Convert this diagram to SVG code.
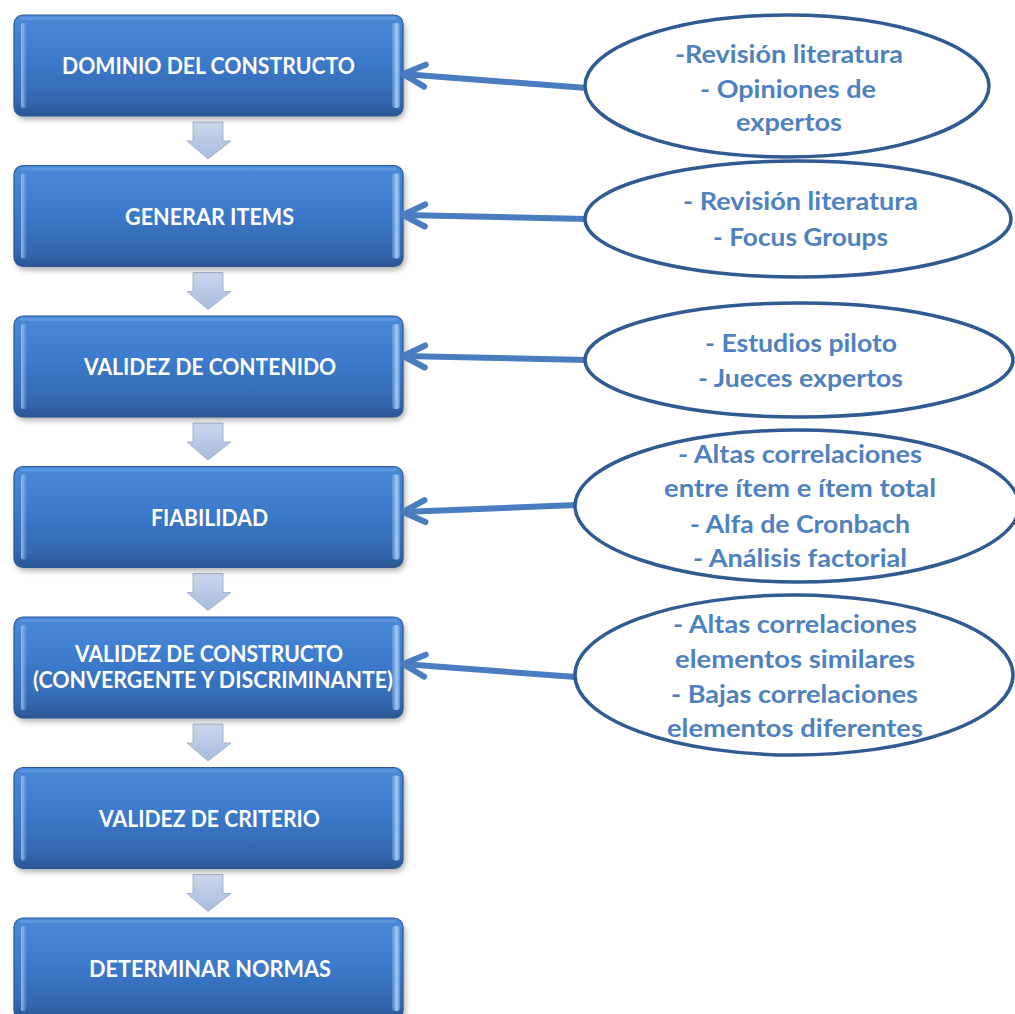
<svg xmlns="http://www.w3.org/2000/svg" width="1015" height="1014" viewBox="0 0 1015 1014">
  <defs>
    <linearGradient id="boxFill" x1="0" y1="0" x2="0" y2="1">
      <stop offset="0" stop-color="#4a89d8"/>
      <stop offset="0.45" stop-color="#3c7acb"/>
      <stop offset="0.85" stop-color="#3368b0"/>
      <stop offset="1" stop-color="#2a5692"/>
    </linearGradient>
    <linearGradient id="edgeL" x1="0" y1="0" x2="1" y2="0">
      <stop offset="0" stop-color="#9cc4f4" stop-opacity="0.9"/>
      <stop offset="1" stop-color="#9cc4f4" stop-opacity="0"/>
    </linearGradient>
    <linearGradient id="edgeR" x1="0" y1="0" x2="1" y2="0">
      <stop offset="0" stop-color="#a8cef8" stop-opacity="0.2"/>
      <stop offset="0.6" stop-color="#a8cef8" stop-opacity="0.95"/>
      <stop offset="1" stop-color="#5b93d6" stop-opacity="0.9"/>
    </linearGradient>
    <linearGradient id="stepFill" x1="0" y1="0" x2="0" y2="1">
      <stop offset="0" stop-color="#cbd8ed"/>
      <stop offset="1" stop-color="#a7bbdc"/>
    </linearGradient>
    <filter id="shadow" x="-10%" y="-20%" width="120%" height="150%">
      <feGaussianBlur stdDeviation="3"/>
    </filter>
    <marker id="chev" markerUnits="userSpaceOnUse" markerWidth="40" markerHeight="40" refX="30" refY="20" orient="auto" overflow="visible">
      <path d="M8,9 L30,20 L8,31" fill="none" stroke="#4a7cc0" stroke-width="6" stroke-linecap="round" stroke-linejoin="round"/>
    </marker>
    <g id="box">
      <rect x="16" y="5" width="389" height="99" rx="9" fill="#000" opacity="0.35" filter="url(#shadow)"/>
      <rect x="14" y="0" width="389" height="101" rx="9" fill="url(#boxFill)" stroke="#2b5a96" stroke-width="1.2"/>
      <rect x="21" y="8" width="6" height="85" rx="2" fill="url(#edgeL)"/>
      <rect x="392" y="8" width="8" height="85" rx="3" fill="url(#edgeR)"/>
      <rect x="20" y="2" width="377" height="3" rx="1.5" fill="#6ea3e6" opacity="0.5"/>
    </g>
    <path id="step" d="M193,0 H223 V19 H231 L208,37 L187,19 H193 Z" fill="url(#stepFill)" stroke="#9aa8c2" stroke-width="0.8"/>
  </defs>
  <style>
    .boxtxt { font-family: Lato, "Open Sans", "Liberation Sans", sans-serif; font-weight: bold; font-size: 22px; fill: #ffffff; text-anchor: middle; }
    .elltxt { font-family: Lato, "Open Sans", "Liberation Sans", sans-serif; font-weight: bold; font-size: 25px; fill: #4f81bf; text-anchor: middle; }
    .ell { fill: #ffffff; stroke: #2f5b92; stroke-width: 3.5; }
    .conn { fill: none; stroke: #4a7cc0; stroke-width: 6; marker-end: url(#chev); }
  </style>

  <rect width="1015" height="1014" fill="#ffffff"/>

  <!-- step arrows between the process boxes -->
  <g id="steps">
    <use href="#step" y="122"/>
    <use href="#step" y="272.5"/>
    <use href="#step" y="423"/>
    <use href="#step" y="573.5"/>
    <use href="#step" y="724"/>
    <use href="#step" y="874.5"/>
  </g>

  <!-- process boxes -->
  <g id="n1">
    <use href="#box" y="15"/>
    <text class="boxtxt" x="208.5" y="74" textLength="293" lengthAdjust="spacingAndGlyphs">DOMINIO DEL CONSTRUCTO</text>
  </g>
  <g id="n2">
    <use href="#box" y="165.5"/>
    <text class="boxtxt" x="209.5" y="224.5" textLength="169" lengthAdjust="spacingAndGlyphs">GENERAR ITEMS</text>
  </g>
  <g id="n3">
    <use href="#box" y="316"/>
    <text class="boxtxt" x="210" y="375" textLength="252" lengthAdjust="spacingAndGlyphs">VALIDEZ DE CONTENIDO</text>
  </g>
  <g id="n4">
    <use href="#box" y="466.5"/>
    <text class="boxtxt" x="209.5" y="525.5" textLength="117" lengthAdjust="spacingAndGlyphs">FIABILIDAD</text>
  </g>
  <g id="n5">
    <use href="#box" y="617"/>
    <text class="boxtxt" x="209" y="662" textLength="268" lengthAdjust="spacingAndGlyphs">VALIDEZ DE CONSTRUCTO</text>
    <text class="boxtxt" x="213" y="688" textLength="360" lengthAdjust="spacingAndGlyphs">(CONVERGENTE Y DISCRIMINANTE)</text>
  </g>
  <g id="n6">
    <use href="#box" y="767.5"/>
    <text class="boxtxt" x="209.5" y="826.5" textLength="221" lengthAdjust="spacingAndGlyphs">VALIDEZ DE CRITERIO</text>
  </g>
  <g id="n7">
    <use href="#box" y="918"/>
    <text class="boxtxt" x="210" y="977" textLength="242" lengthAdjust="spacingAndGlyphs">DETERMINAR NORMAS</text>
  </g>

  <!-- connectors from the method ellipses to the boxes -->
  <g id="connectors">
    <path class="conn" d="M587,88 L403,74"/>
    <path class="conn" d="M587,219 L403,215"/>
    <path class="conn" d="M587,360 L403,356"/>
    <path class="conn" d="M576,505 L403,512"/>
    <path class="conn" d="M576,677 L403,664"/>
  </g>

  <!-- method ellipses -->
  <g id="e1">
    <ellipse class="ell" cx="787" cy="86" rx="202" ry="71"/>
    <text class="elltxt" x="789" y="63" textLength="228" lengthAdjust="spacingAndGlyphs">-Revisión literatura</text>
    <text class="elltxt" x="788" y="98" textLength="176" lengthAdjust="spacingAndGlyphs">- Opiniones de</text>
    <text class="elltxt" x="789" y="131" textLength="106" lengthAdjust="spacingAndGlyphs">expertos</text>
  </g>
  <g id="e2">
    <ellipse class="ell" cx="798" cy="219" rx="213" ry="58"/>
    <text class="elltxt" x="800.5" y="210" textLength="235" lengthAdjust="spacingAndGlyphs">- Revisión literatura</text>
    <text class="elltxt" x="800.5" y="246" textLength="175" lengthAdjust="spacingAndGlyphs">- Focus Groups</text>
  </g>
  <g id="e3">
    <ellipse class="ell" cx="799" cy="360" rx="214" ry="57"/>
    <text class="elltxt" x="801" y="352" textLength="192" lengthAdjust="spacingAndGlyphs">- Estudios piloto</text>
    <text class="elltxt" x="800.5" y="387" textLength="205" lengthAdjust="spacingAndGlyphs">- Jueces expertos</text>
  </g>
  <g id="e4">
    <ellipse class="ell" cx="797" cy="506" rx="222" ry="76"/>
    <text class="elltxt" x="800" y="463" textLength="244" lengthAdjust="spacingAndGlyphs">- Altas correlaciones</text>
    <text class="elltxt" x="800" y="497" textLength="272" lengthAdjust="spacingAndGlyphs">entre ítem e ítem total</text>
    <text class="elltxt" x="800" y="533" textLength="220" lengthAdjust="spacingAndGlyphs">- Alfa de Cronbach</text>
    <text class="elltxt" x="800" y="567" textLength="214" lengthAdjust="spacingAndGlyphs">- Análisis factorial</text>
  </g>
  <g id="e5">
    <ellipse class="ell" cx="794" cy="675" rx="219" ry="80"/>
    <text class="elltxt" x="795" y="633" textLength="244" lengthAdjust="spacingAndGlyphs">- Altas correlaciones</text>
    <text class="elltxt" x="795" y="668" textLength="240" lengthAdjust="spacingAndGlyphs">elementos similares</text>
    <text class="elltxt" x="794.5" y="703" textLength="247" lengthAdjust="spacingAndGlyphs">- Bajas correlaciones</text>
    <text class="elltxt" x="795" y="737" textLength="256" lengthAdjust="spacingAndGlyphs">elementos diferentes</text>
  </g>
</svg>
